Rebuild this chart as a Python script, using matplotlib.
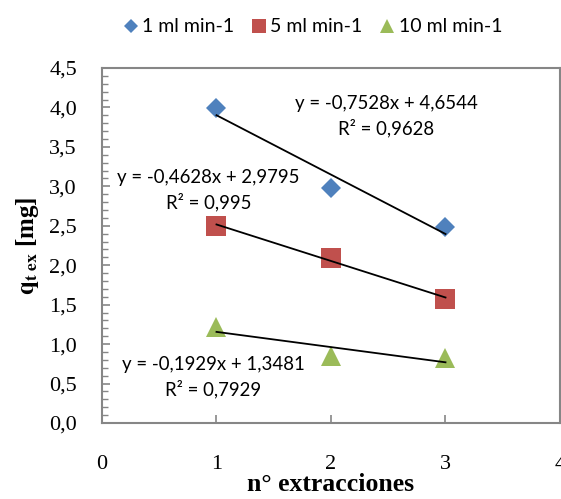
import matplotlib
matplotlib.use("Agg")
import matplotlib.pyplot as plt
from matplotlib.ticker import MultipleLocator, FuncFormatter
import numpy as np

plt.rcParams['mathtext.fontset'] = 'stix'

# n° de extracciones
x = [1, 2, 3]
series_names = ["1 ml min-1", "5 ml min-1", "10 ml min-1"]
q_1ml = [3.987, 2.978, 2.481]
q_5ml = [2.498, 2.092, 1.572]
q_10ml = [1.212, 0.848, 0.826]

# Ajustes lineales (pendiente, ordenada, R²)
fit_1ml = (-0.7528, 4.6544, 0.9628)
fit_5ml = (-0.4628, 2.9795, 0.995)
fit_10ml = (-0.1929, 1.3481, 0.7929)

colors = ["#4F81BD", "#C0504D", "#9BBB59"]
markers = ["D", "s", "^"]
msizes = [10, 14, 14]
label_pos = [(2.48, 3.89), (0.93, 2.95), (0.97, 0.58)]

fig = plt.figure(figsize=(5.61, 4.99), dpi=100)
ax = fig.add_axes([0.1818, 0.1523, 0.8164, 0.7114])

series = [q_1ml, q_5ml, q_10ml]
fits = [fit_1ml, fit_5ml, fit_10ml]
handles = []
for y, c, m, ms, name in zip(series, colors, markers, msizes, series_names):
    h, = ax.plot(x, y, linestyle='none', marker=m, markersize=ms, color=c,
                 markeredgewidth=0, label=name, zorder=3)
    handles.append(h)

for (m, b, r2), (tx, ty) in zip(fits, label_pos):
    xx = np.array([1, 3])
    ax.plot(xx, m * xx + b, color='black', lw=1.3, zorder=4)
    eq = "y = {}x + {}".format(f"{m:.4f}".replace('.', ','), f"{b:.4f}".replace('.', ','))
    r2s = "R² = " + f"{r2:g}".replace('.', ',')
    ax.text(tx, ty, eq + "\n" + r2s, ha='center', va='center', fontsize=13.4,
            family='Lato', linespacing=1.45, zorder=5)

ax.set_xlim(0, 4)
ax.set_ylim(0, 4.5)
ax.xaxis.set_major_locator(MultipleLocator(1))
ax.yaxis.set_major_locator(MultipleLocator(0.5))
ax.yaxis.set_minor_locator(MultipleLocator(0.1))
ax.yaxis.set_major_formatter(FuncFormatter(lambda v, p: f"{v:.1f}".replace('.', ',')))
ax.xaxis.set_major_formatter(FuncFormatter(lambda v, p: f"{v:.0f}"))

spine_c = '#868686'
for s in ax.spines.values():
    s.set_color(spine_c)
    s.set_linewidth(1.5)
ax.tick_params(axis='both', which='both', direction='in', color=spine_c)
ax.tick_params(axis='x', which='major', length=6, width=1.2, pad=23, labelsize=16)
ax.tick_params(axis='y', which='major', length=6, width=1.2, pad=18, labelsize=16)
ax.tick_params(axis='y', which='minor', length=4, width=1.0)
for lbl in ax.get_xticklabels() + ax.get_yticklabels():
    lbl.set_family('Liberation Serif')

ax.set_xlabel("n° extracciones", family='Liberation Serif', fontweight='bold',
              fontsize=18.5, labelpad=-1)
ax.set_ylabel(r"$\mathbf{q}_{\mathbf{t\ ex}}$ [mg]", family='Liberation Serif',
              fontweight='bold', fontsize=18, labelpad=6)

fig.legend(handles=handles, loc='center', bbox_to_anchor=(0.558, 0.946), ncol=3,
           frameon=False, prop={'family': 'Lato', 'size': 14}, handlelength=0.7,
           handletextpad=0.25, columnspacing=0.9, markerscale=0.75)

fig.savefig("out.png", dpi=100)
